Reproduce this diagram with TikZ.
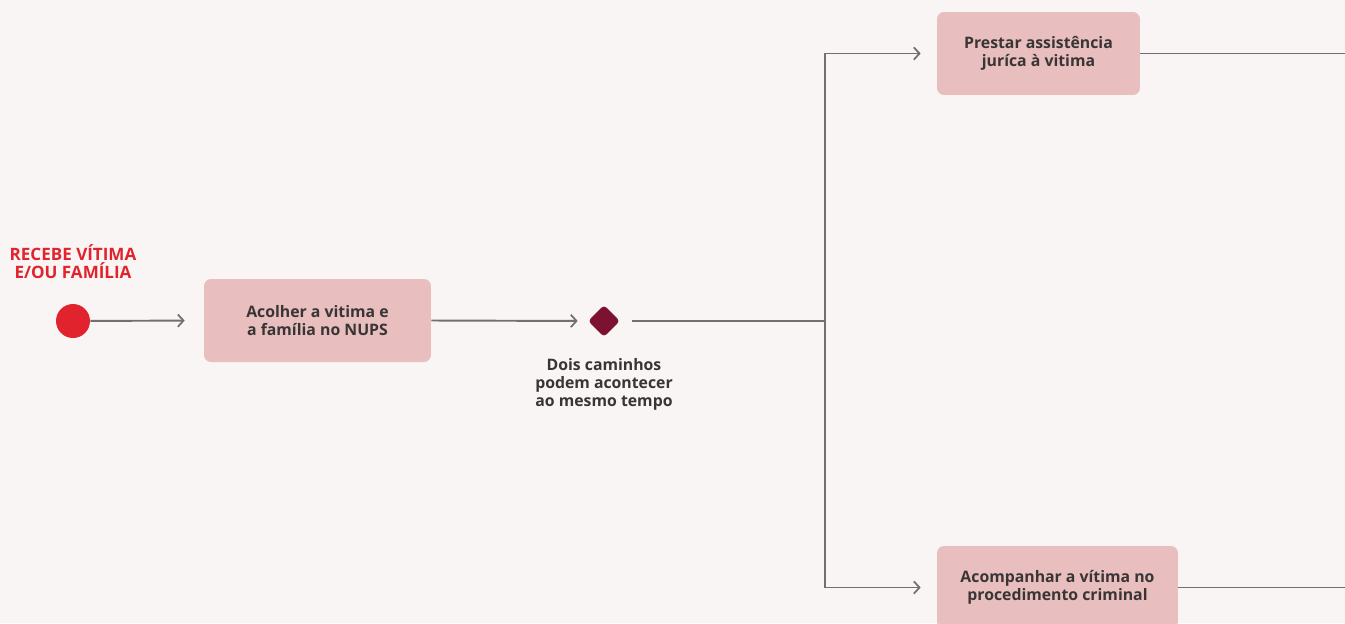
\documentclass[tikz,border=0pt]{standalone}
\usepackage{fontspec}
\setmainfont{Open Sans}
\usetikzlibrary{arrows.meta, positioning, shapes.geometric}
\definecolor{bgPaper}{HTML}{F9F5F4}
\definecolor{boxRose}{HTML}{E8BEBE}
\definecolor{textDark}{HTML}{3A3535}
\definecolor{startRed}{HTML}{E1232D}
\definecolor{forkWine}{HTML}{7C1130}
\definecolor{lineGrey}{HTML}{707070}

\begin{document}
\begin{tikzpicture}[x=0.02cm, y=-0.02cm,
    act/.style={rectangle, rounded corners=4pt, fill=boxRose,
                minimum height=1.66cm, inner sep=0pt,
                font=\fontsize{9}{10.2}\selectfont\bfseries\color{textDark},
                align=center},
    flow/.style={draw=lineGrey, line width=1.1pt,
                 -{Straight Barb[length=3.2pt, width=7pt, line width=1pt]}},
    wire/.style={draw=lineGrey, line width=1.1pt},
    note/.style={font=\fontsize{9}{10.2}\selectfont\bfseries\color{textDark},
                 align=center},
  ]
    \fill[bgPaper] (0,0) rectangle (1345,623);
    \useasboundingbox (0,0) rectangle (1345,623);

    % start
    \node[circle, fill=startRed, minimum size=0.68cm, inner sep=0pt] (start) at (73,321) {};
    \node[font=\fontsize{9.7}{10.4}\selectfont\bfseries\color{startRed}, align=center]
      (startlbl) at (73,262) {RECEBE VÍTIMA\\E/OU FAMÍLIA};

    % activities
    \node[act, minimum width=4.54cm] (acolher) at (317.5,320.5)
      {Acolher a vitima e\\a família no NUPS};
    \node[diamond, fill=forkWine, minimum width=0.64cm, minimum height=0.64cm,
          inner sep=0pt, rounded corners=2pt] (fork) at (604,321) {};
    \node[note, below=0.3cm of fork] (forklbl)
      {Dois caminhos\\podem acontecer\\ao mesmo tempo};
    \coordinate (split) at (825,321);
    \node[act, minimum width=4.06cm] (juridica) at (1038.5,53.5)
      {Prestar assistência\\juríca à vitima};
    \node[act, minimum width=4.82cm] (criminal) at (1057.5,587.5)
      {Acompanhar a vítima no\\procedimento criminal};
    \coordinate (outtop) at (1345,53.5);
    \coordinate (outbot) at (1345,587.5);

    % connectors
    \draw[flow, shorten >=0.38cm] (start) -- (acolher.west);
    \draw[flow, shorten >=0.2cm] (acolher.east) -- (fork.west);
    \draw[wire, shorten <=0.24cm] (fork.east) -- (split);
    \draw[flow, shorten >=0.32cm] (split) |- (juridica.west);
    \draw[flow, shorten >=0.32cm] (split) |- (criminal.west);
    \draw[wire] (juridica.east) -- (outtop);
    \draw[wire] (criminal.east) -- (outbot);
  \end{tikzpicture}
\end{document}
